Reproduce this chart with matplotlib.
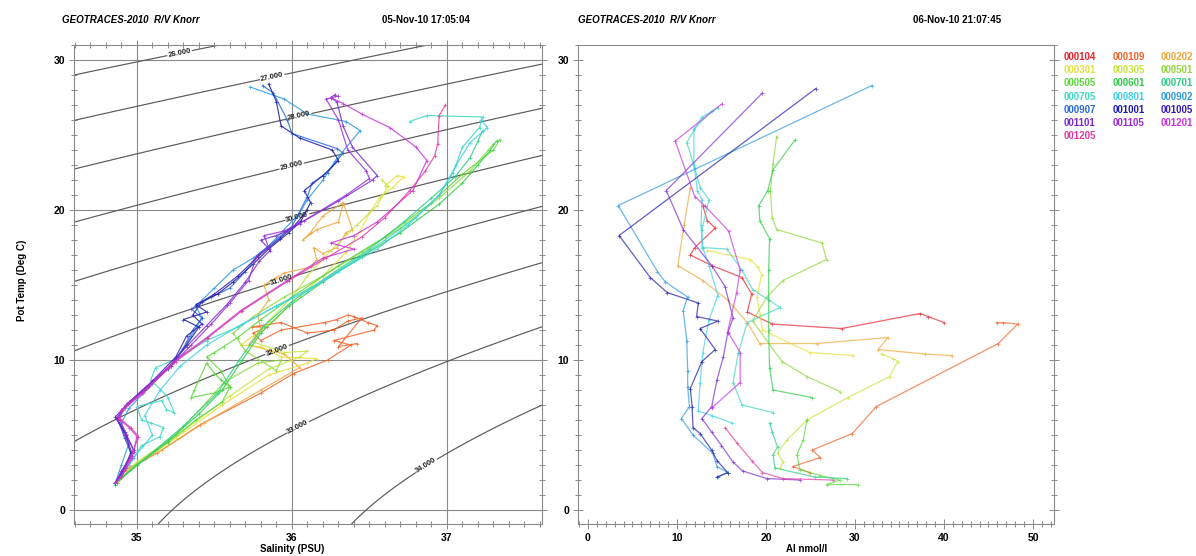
import numpy as np
import matplotlib
matplotlib.use('Agg')
import matplotlib.pyplot as plt
from matplotlib.ticker import MultipleLocator

plt.rcParams['font.family'] = ['Liberation Sans', 'DejaVu Sans']

# ---------------- station list & colours ----------------
STATIONS = ['000104', '000109', '000202', '000301', '000305', '000501', '000505',
            '000601', '000701', '000705', '000801', '000902', '000907', '001001',
            '001005', '001101', '001105', '001201', '001205']
COLORS = ['#e8222e', '#f0622a', '#f0a63a', '#e6e03a', '#c4e63a', '#8ed83a', '#58d838',
          '#2ecc4a', '#2ecc88', '#3cd8c0', '#3cd0e8', '#2c9ae0', '#2a6ad8', '#1a1aa8',
          '#3a1ab0', '#7a2ad0', '#9a2ad8', '#c832e0', '#e03aa0']

# ---------------- T-S data (salinity, pot. temperature) ----------------
S_000109 = [34.87, 34.93, 35.13, 35.41, 35.80, 36.01, 36.23, 36.38, 36.27, 36.53, 36.55, 36.49, 36.40, 36.36, 36.29, 36.21, 35.93, 35.80, 35.75, 35.84, 35.74, 35.93, 36.10, 36.27, 36.36, 36.45, 36.30, 36.42]
T_000109 = [1.8, 2.7, 3.8, 5.7, 7.8, 9.1, 10.0, 11.0, 11.3, 12.0, 12.3, 12.5, 12.9, 13.0, 12.7, 12.5, 12.0, 11.3, 11.8, 12.2, 12.2, 12.5, 11.8, 12.0, 12.6, 12.8, 10.9, 11.1]
S_000202 = [34.87, 34.96, 35.16, 35.43, 35.80, 36.05, 35.95, 35.72, 35.80, 35.78, 35.85, 35.82, 35.90, 35.95, 36.12, 36.16, 36.14, 36.20, 36.29, 36.35, 36.39, 36.33, 36.20, 36.12, 36.07, 36.16, 36.30, 36.33]
T_000202 = [1.8, 2.8, 4.0, 5.8, 8.0, 9.5, 10.4, 11.0, 12.0, 13.0, 14.0, 15.0, 15.5, 15.8, 16.2, 16.7, 17.5, 17.1, 17.5, 18.5, 18.7, 20.5, 19.6, 18.5, 18.0, 18.7, 19.2, 20.4]
S_000301 = [34.87, 34.98, 35.25, 35.55, 35.85, 36.10, 36.16, 35.93, 35.80, 35.67, 35.75, 35.90, 36.05, 36.20, 36.35, 36.44, 36.50, 36.57, 36.65, 36.72, 36.68, 36.60]
T_000301 = [1.8, 2.9, 4.8, 7.0, 9.0, 9.8, 10.1, 10.2, 10.9, 11.0, 11.6, 12.8, 14.3, 15.6, 17.2, 18.6, 19.8, 20.9, 21.5, 22.2, 22.3, 21.6]
S_000305 = [34.87, 35.00, 35.30, 35.60, 35.85, 36.05, 36.10, 35.95, 35.75, 35.85, 36.00, 36.10, 36.25, 36.42, 36.55, 36.62, 36.58]
T_000305 = [1.8, 3.2, 5.3, 7.6, 9.4, 10.2, 10.6, 10.5, 11.2, 12.6, 14.2, 15.6, 17.3, 19.0, 20.3, 21.6, 22.0]
S_000501 = [34.87, 35.00, 35.25, 35.45, 35.56, 35.78, 35.93, 35.90, 35.70, 35.62, 35.75, 35.95, 36.20, 36.45, 36.70, 36.95, 37.15, 37.30]
T_000501 = [1.8, 3.1, 5.0, 7.2, 8.5, 9.8, 10.0, 9.3, 10.6, 11.8, 12.9, 14.2, 15.6, 17.2, 18.8, 20.8, 22.6, 24.4]
S_000505 = [34.87, 35.00, 35.20, 35.38, 35.55, 35.60, 35.54, 35.50, 35.45, 35.37, 35.35, 35.50, 35.60, 35.54, 35.45, 35.50, 35.56, 35.65, 35.80, 36.00, 36.30, 36.60, 36.90, 37.10, 37.30, 37.34]
T_000505 = [1.8, 3.0, 4.5, 6.0, 7.2, 8.2, 8.7, 9.1, 9.8, 8.0, 7.5, 7.8, 8.2, 9.3, 10.2, 10.5, 10.9, 11.5, 12.7, 14.2, 16.3, 18.2, 20.5, 22.4, 24.0, 24.7]
S_000601 = [34.86, 35.00, 35.20, 35.40, 35.55, 35.68, 35.80, 35.98, 36.20, 36.45, 36.70, 36.95, 37.10, 37.20, 37.28, 37.32]
T_000601 = [1.8, 3.0, 4.6, 6.4, 8.0, 10.0, 11.8, 13.6, 15.2, 16.9, 18.5, 20.4, 21.8, 23.0, 24.0, 24.6]
S_000701 = [34.86, 35.05, 35.30, 35.52, 35.66, 35.82, 36.00, 36.25, 36.50, 36.72, 36.90, 37.05, 37.15, 37.20, 37.23]
T_000701 = [1.8, 3.4, 5.6, 7.8, 10.0, 12.3, 13.9, 15.7, 17.4, 19.2, 20.8, 22.2, 23.5, 24.6, 25.3]
S_000705 = [34.86, 34.95, 35.03, 35.15, 35.17, 35.09, 35.03, 35.00, 35.16, 35.19, 35.24, 35.20, 35.09, 35.12, 35.24, 35.45, 35.65, 35.90, 36.15, 36.40, 36.60, 36.80, 36.95, 37.04, 37.10, 37.21, 37.23, 36.87, 36.76]
T_000705 = [1.7, 3.0, 4.3, 4.9, 5.5, 5.8, 6.0, 6.9, 7.3, 6.7, 6.5, 7.5, 8.7, 9.5, 10.0, 11.3, 12.2, 13.6, 15.0, 16.6, 18.0, 19.5, 21.0, 22.5, 24.2, 25.5, 26.2, 26.3, 25.9]
S_000801 = [34.86, 34.98, 35.10, 35.05, 35.15, 35.28, 35.45, 35.68, 35.90, 36.10, 36.30, 36.55, 36.75, 36.95, 37.06, 37.15, 37.26, 37.22]
T_000801 = [1.7, 3.5, 5.0, 6.3, 8.0, 9.6, 11.0, 12.4, 13.6, 14.6, 15.9, 17.4, 19.0, 21.0, 23.0, 24.5, 25.5, 26.0]
S_000902 = [34.86, 34.90, 34.95, 34.90, 34.95, 35.10, 35.25, 35.35, 35.42, 35.38, 35.50, 35.62, 35.75, 35.85, 35.95, 36.05, 36.10, 36.20, 36.28, 36.44, 36.35, 36.10, 35.95, 35.73]
T_000902 = [1.8, 3.0, 4.5, 5.8, 6.8, 8.4, 10.0, 11.6, 12.8, 13.6, 14.8, 16.0, 16.8, 17.6, 18.7, 19.8, 20.7, 22.0, 23.3, 25.3, 25.9, 26.4, 27.4, 28.2]
S_000907 = [34.86, 34.90, 34.97, 34.92, 34.88, 34.92, 35.05, 35.20, 35.30, 35.36, 35.42, 35.35, 35.48, 35.60, 35.70, 35.79, 35.92, 36.00, 36.10, 36.13, 36.23, 36.33, 36.29, 36.00, 35.97, 35.88, 35.81]
T_000907 = [1.8, 2.5, 3.6, 4.8, 6.0, 6.8, 8.0, 9.4, 10.8, 12.0, 12.8, 13.4, 14.2, 14.8, 15.9, 17.1, 18.2, 18.9, 20.9, 21.8, 22.5, 23.8, 24.1, 25.1, 26.0, 27.8, 28.3]
S_001001 = [34.86, 34.91, 34.96, 34.93, 34.87, 34.93, 35.07, 35.22, 35.32, 35.40, 35.30, 35.45, 35.38, 35.52, 35.62, 35.75, 35.85, 35.98, 36.06, 36.12, 36.08, 36.20, 36.30, 36.26, 36.05, 35.93, 35.90, 35.85]
T_001001 = [1.8, 2.6, 3.8, 5.0, 6.1, 7.0, 8.2, 9.6, 11.0, 12.2, 12.7, 13.2, 13.7, 14.4, 15.2, 16.4, 17.4, 18.5, 19.3, 20.5, 21.3, 22.3, 23.3, 24.0, 24.8, 25.6, 27.2, 28.4]
S_001005 = [34.86, 34.92, 34.98, 34.92, 34.86, 34.95, 35.10, 35.25, 35.32, 35.42, 35.36, 35.42, 35.50, 35.65, 35.78, 35.92, 36.02, 36.10]
T_001005 = [1.8, 2.8, 4.0, 5.2, 6.2, 7.2, 8.6, 10.2, 11.6, 12.4, 13.0, 13.9, 14.4, 15.6, 16.9, 18.1, 19.0, 20.0]
S_001101 = [34.86, 34.90, 34.97, 34.92, 34.87, 34.93, 35.06, 35.20, 35.32, 35.45, 35.58, 35.70, 35.79, 35.86, 35.80, 35.90, 35.97, 36.05, 36.30, 36.52, 36.55, 36.39, 36.33, 36.29, 36.25, 36.28]
T_001101 = [1.8, 2.6, 3.8, 5.0, 6.1, 7.0, 8.2, 9.5, 10.9, 12.3, 13.7, 15.2, 16.6, 17.3, 18.0, 18.3, 18.6, 19.1, 20.6, 22.0, 22.3, 24.2, 25.6, 27.2, 27.5, 27.7]
S_001105 = [34.86, 34.91, 34.98, 34.93, 34.88, 34.94, 35.08, 35.22, 35.35, 35.48, 35.60, 35.72, 35.77, 35.85, 35.82, 35.95, 36.08, 36.35, 36.50, 36.48, 36.36, 36.30, 36.22, 36.30]
T_001105 = [1.8, 2.7, 3.9, 5.1, 6.2, 7.1, 8.3, 9.6, 11.0, 12.4, 13.8, 15.3, 16.9, 17.5, 18.3, 18.6, 19.3, 21.0, 22.1, 22.6, 24.0, 26.0, 27.4, 27.6]
S_001201 = [34.86, 34.90, 34.97, 35.00, 34.95, 34.88, 34.90, 35.03, 35.24, 35.45, 35.67, 35.97, 36.20, 36.40, 36.25, 36.40, 36.55, 36.78, 36.87, 36.80, 36.63, 36.45, 36.33, 36.25]
T_001201 = [1.8, 2.2, 3.5, 4.9, 5.5, 6.1, 6.7, 7.8, 9.9, 11.5, 13.3, 15.3, 16.8, 17.4, 17.8, 18.3, 19.2, 21.3, 23.3, 24.2, 25.5, 26.4, 27.1, 27.5]
S_001205 = [34.86, 34.90, 34.96, 35.01, 34.96, 34.89, 34.91, 35.04, 35.25, 35.46, 35.68, 35.98, 36.22, 36.45, 36.60, 36.76, 36.86, 36.92, 36.94, 36.95, 36.99]
T_001205 = [1.8, 2.2, 3.5, 4.9, 5.5, 6.1, 6.7, 7.8, 9.9, 11.5, 13.3, 15.3, 16.8, 18.2, 19.5, 21.3, 22.6, 23.6, 24.4, 26.3, 27.0]

# ---------------- Al data (Al nmol/l, pot. temperature) ----------------
AL_000104 = [12.9, 13.4, 14.3, 12.0, 11.5, 13.9, 17.3, 18.4, 17.9, 20.7, 28.5, 37.3, 38.2, 40.0]
AT_000104 = [20.3, 19.3, 18.8, 17.5, 17.0, 16.3, 15.5, 14.4, 13.2, 12.4, 12.1, 13.1, 12.9, 12.5]
AL_000109 = [45.9, 46.6, 48.3, 46.1, 32.4, 29.7, 25.2, 26.1, 23.0, 24.9]
AT_000109 = [12.5, 12.5, 12.4, 11.1, 6.9, 5.1, 4.0, 3.5, 2.9, 2.5]
AL_000202 = [11.5, 10.8, 10.1, 12.9, 15.7, 17.9, 19.3, 25.7, 33.7, 32.6, 37.9, 40.9]
AT_000202 = [21.5, 19.0, 16.3, 15.3, 14.0, 12.5, 11.1, 11.1, 11.5, 10.7, 10.4, 10.3]
AL_000301 = [13.4, 18.2, 19.1, 19.5, 19.0, 19.3, 19.6, 24.9, 29.8]
AT_000301 = [17.3, 16.7, 16.2, 15.7, 14.2, 13.1, 12.0, 10.5, 10.3]
AL_000305 = [33.0, 34.3, 34.8, 33.9, 29.2, 24.6, 22.4, 21.3, 21.9, 21.6]
AT_000305 = [10.4, 10.1, 9.9, 8.9, 7.5, 6.0, 4.7, 3.8, 3.2, 2.8]
AL_000501 = [21.2, 20.8, 20.5, 20.7, 21.2, 26.3, 26.8, 21.9, 20.1, 18.5, 21.8, 24.6, 28.3]
AT_000501 = [24.9, 23.1, 21.3, 19.5, 18.7, 17.8, 16.7, 15.3, 14.2, 12.6, 9.9, 8.9, 7.9]
AL_000505 = [24.6, 24.2, 23.5, 23.8, 26.1, 28.3, 26.8, 30.3]
AT_000505 = [6.0, 4.7, 3.7, 2.7, 2.3, 2.0, 1.7, 1.7]
AL_000601 = [23.3, 20.8, 20.2, 19.2, 19.3, 20.4, 20.3, 20.3, 20.3, 20.4, 20.8, 25.2]
AT_000601 = [24.7, 22.7, 21.3, 20.3, 19.3, 18.1, 16.0, 14.0, 12.0, 9.5, 8.0, 7.5]
AL_000701 = [20.4, 20.7, 21.3, 20.8, 21.0, 25.5, 29.1]
AT_000701 = [5.8, 5.2, 4.2, 3.7, 2.8, 2.2, 2.1]
AL_000705 = [14.6, 12.8, 11.1, 12.0, 12.6, 13.6, 12.8, 12.8, 15.6, 17.3, 18.5, 21.6, 17.9, 16.9, 16.3, 17.3, 20.8]
AT_000705 = [26.8, 26.2, 24.5, 22.8, 21.5, 20.7, 18.7, 17.5, 17.4, 16.0, 14.7, 13.5, 12.5, 10.5, 8.5, 7.0, 6.5]
AL_000801 = [13.9, 11.9, 11.9, 12.3, 12.8, 12.7, 12.9, 13.6, 14.6, 13.6, 12.9, 12.6, 12.4, 13.9, 16.2]
AT_000801 = [26.6, 25.4, 23.0, 21.3, 20.7, 19.0, 17.5, 16.3, 14.3, 12.7, 10.5, 8.5, 6.6, 6.3, 5.8]
AL_000902 = [31.9, 3.4, 7.8, 8.7, 11.2, 10.7, 11.1, 11.2, 11.2, 11.4, 10.5, 11.8, 14.0, 14.5, 15.7, 14.6]
AT_000902 = [28.3, 20.3, 15.9, 15.2, 14.2, 13.3, 11.3, 9.3, 8.2, 6.9, 6.1, 5.0, 3.8, 2.9, 2.5, 2.2]
AL_001001 = [25.6, 3.5, 7.0, 8.9, 12.4, 12.2, 14.6, 12.6, 14.3, 12.8, 11.5, 11.7, 11.8, 12.6, 13.9, 14.5, 15.7, 14.5]
AT_001001 = [28.1, 18.3, 15.5, 14.5, 13.8, 12.9, 12.6, 12.1, 10.7, 9.9, 8.1, 6.9, 5.5, 5.1, 4.0, 3.3, 2.5, 2.2]
AL_001101 = [19.6, 8.8, 10.7, 13.9, 15.4, 16.3, 15.7, 15.2, 14.5, 13.9, 12.8, 13.9, 15.0, 16.3, 17.4, 20.1, 23.8]
AT_001101 = [27.8, 21.3, 18.7, 16.3, 14.9, 12.8, 11.8, 10.2, 8.7, 6.9, 6.1, 5.2, 4.3, 3.2, 2.6, 2.1, 2.0]
AL_001201 = [15.1, 9.8, 12.0, 13.1, 15.8, 17.1, 16.7, 15.7, 17.1, 17.1, 13.9]
AT_001201 = [27.1, 24.6, 20.9, 20.3, 18.6, 16.0, 14.5, 11.9, 10.5, 8.5, 6.8]
AL_001205 = [15.4, 16.7, 18.4, 19.6, 21.9, 27.5]
AT_001205 = [5.5, 4.5, 3.3, 2.5, 2.1, 2.0]

TS_DATA = {
    '000109': (S_000109, T_000109), '000202': (S_000202, T_000202),
    '000301': (S_000301, T_000301), '000305': (S_000305, T_000305), '000501': (S_000501, T_000501),
    '000505': (S_000505, T_000505), '000601': (S_000601, T_000601), '000701': (S_000701, T_000701),
    '000705': (S_000705, T_000705), '000801': (S_000801, T_000801), '000902': (S_000902, T_000902),
    '000907': (S_000907, T_000907), '001001': (S_001001, T_001001), '001005': (S_001005, T_001005),
    '001101': (S_001101, T_001101), '001105': (S_001105, T_001105), '001201': (S_001201, T_001201),
    '001205': (S_001205, T_001205)}
AL_DATA = {
    '000104': (AL_000104, AT_000104), '000109': (AL_000109, AT_000109), '000202': (AL_000202, AT_000202),
    '000301': (AL_000301, AT_000301), '000305': (AL_000305, AT_000305), '000501': (AL_000501, AT_000501),
    '000505': (AL_000505, AT_000505), '000601': (AL_000601, AT_000601), '000701': (AL_000701, AT_000701),
    '000705': (AL_000705, AT_000705), '000801': (AL_000801, AT_000801), '000902': (AL_000902, AT_000902),
    '001001': (AL_001001, AT_001001), '001101': (AL_001101, AT_001101), '001201': (AL_001201, AT_001201),
    '001205': (AL_001205, AT_001205)}

SIGMA_LEVELS = [26, 27, 28, 29, 30, 31, 32, 33, 34]


# ---------------- UNESCO EOS-80 density referenced to 1000 dbar ----------------
def sigma1(S, T, p=100.0):
    rw = (999.842594 + 6.793952e-2 * T - 9.095290e-3 * T**2 + 1.001685e-4 * T**3
          - 1.120083e-6 * T**4 + 6.536332e-9 * T**5)
    r0 = (rw + S * (0.824493 - 4.0899e-3 * T + 7.6438e-5 * T**2 - 8.2467e-7 * T**3 + 5.3875e-9 * T**4)
          + S**1.5 * (-5.72466e-3 + 1.0227e-4 * T - 1.6546e-6 * T**2) + 4.8314e-4 * S**2)
    kw = 19652.21 + 148.4206 * T - 2.327105 * T**2 + 1.360477e-2 * T**3 - 5.155288e-5 * T**4
    k0 = (kw + S * (54.6746 - 0.603459 * T + 1.09987e-2 * T**2 - 6.1670e-5 * T**3)
          + S**1.5 * (7.944e-2 + 1.6483e-2 * T - 5.3009e-4 * T**2))
    aw = 3.239908 + 1.43713e-3 * T + 1.16092e-4 * T**2 - 5.77905e-7 * T**3
    a = aw + S * (2.2838e-3 - 1.0981e-5 * T - 1.6078e-6 * T**2) + 1.91075e-4 * S**1.5
    bw = 8.50935e-5 - 6.12293e-6 * T + 5.2787e-8 * T**2
    b = bw + S * (-9.9348e-7 + 2.0816e-8 * T + 9.1697e-10 * T**2)
    k = k0 + a * p + b * p**2
    return r0 / (1 - p / k) - 1000.0


W, H = 1196, 556
fig = plt.figure(figsize=(W / 100, H / 100), dpi=100)
axL = fig.add_axes([74 / W, 1 - 524 / H, 468 / W, 479 / H])
axR = fig.add_axes([578 / W, 1 - 524 / H, 476 / W, 479 / H])

SPINE = '#8a8a8a'

# ---------- left: T-S diagram ----------
SX, SY = (34.594, 37.613), (-0.93, 31.0)
sg = np.linspace(SX[0], SX[1], 300)
tg = np.linspace(SY[0], SY[1], 300)
SS, TT = np.meshgrid(sg, tg)
cs = axL.contour(SS, TT, sigma1(SS, TT), levels=SIGMA_LEVELS, colors='#5a5a5a', linewidths=0.85)
label_pos = [(35.28, 30.2), (35.88, 28.5), (36.05, 26.1), (36.0, 22.8), (36.04, 19.3),
             (35.94, 15.2), (35.91, 10.5), (36.04, 5.5), (36.87, 2.9)]
cl = axL.clabel(cs, fmt='%.3f', fontsize=5.5, inline=True, inline_spacing=1, manual=label_pos)
for t in cl:
    t.set_fontweight('bold')
    t.set_color('#222222')

for st, col in zip(STATIONS, COLORS):
    if st in TS_DATA:
        s, t = TS_DATA[st]
        axL.plot(s, t, color=col, lw=0.85, alpha=0.85, marker='+', ms=2.5, mew=0.5, zorder=3)

axL.set_xlim(*SX)
axL.set_ylim(*SY)
axL.xaxis.set_major_locator(MultipleLocator(1))
axL.xaxis.set_minor_locator(MultipleLocator(0.1))
axL.yaxis.set_major_locator(MultipleLocator(10))
axL.yaxis.set_minor_locator(MultipleLocator(1))
axL.grid(which='major', color='#8a8a8a', lw=0.8, zorder=1)
axL.tick_params(which='both', direction='inout', top=True, right=True, labeltop=False,
                labelright=False, color=SPINE, width=0.7)
axL.tick_params(which='major', length=7)
axL.tick_params(which='minor', length=5)

# ---------- right: Al profiles ----------
for st, col in zip(STATIONS, COLORS):
    if st in AL_DATA:
        a, t = AL_DATA[st]
        axR.plot(a, t, color=col, lw=0.9, alpha=0.7, marker='+', ms=3, mew=0.6, zorder=3)

axR.set_xlim(-1.12, 52.36)
axR.set_ylim(*SY)
axR.xaxis.set_major_locator(MultipleLocator(10))
axR.xaxis.set_minor_locator(MultipleLocator(1))
axR.yaxis.set_major_locator(MultipleLocator(10))
axR.yaxis.set_minor_locator(MultipleLocator(1))
axR.tick_params(which='both', direction='inout', top=False, right=True, labelright=False,
                color=SPINE, width=0.7)
axR.tick_params(which='major', length=7)
axR.tick_params(which='minor', length=5)

for ax in (axL, axR):
    for sp in ax.spines.values():
        sp.set_color(SPINE)
        sp.set_linewidth(0.8)
    for lab in ax.get_xticklabels() + ax.get_yticklabels():
        lab.set_fontsize(7.5)
        lab.set_fontweight('bold')
    ax.tick_params(which='major', pad=3)

# ---------- texts ----------
def ftext(x, y, s, **kw):
    fig.text(x / W, 1 - y / H, s, **kw)

ftext(62, 20, 'GEOTRACES-2010  R/V Knorr', fontsize=7, fontweight='bold', fontstyle='italic', va='center')
ftext(470, 20, '05-Nov-10 17:05:04', fontsize=7, fontweight='bold', va='center', ha='right')
ftext(578, 20, 'GEOTRACES-2010  R/V Knorr', fontsize=7, fontweight='bold', fontstyle='italic', va='center')
ftext(1001, 20, '06-Nov-10 21:07:45', fontsize=7, fontweight='bold', va='center', ha='right')
ftext(22, 280, 'Pot Temp (Deg C)', fontsize=7, fontweight='bold', rotation=90, va='center', ha='center')
ftext(292, 549, 'Salinity (PSU)', fontsize=7, fontweight='bold', va='center', ha='center')
ftext(807, 549, 'Al nmol/l', fontsize=7, fontweight='bold', va='center', ha='center')

# legend (coloured station names)
for i, (st, col) in enumerate(zip(STATIONS, COLORS)):
    r, c = divmod(i, 3)
    ftext(1064 + 48.5 * c, 57 + 13.2 * r, st, fontsize=7, fontweight='bold', color=col, va='center')

fig.savefig('out.png', dpi=100)
